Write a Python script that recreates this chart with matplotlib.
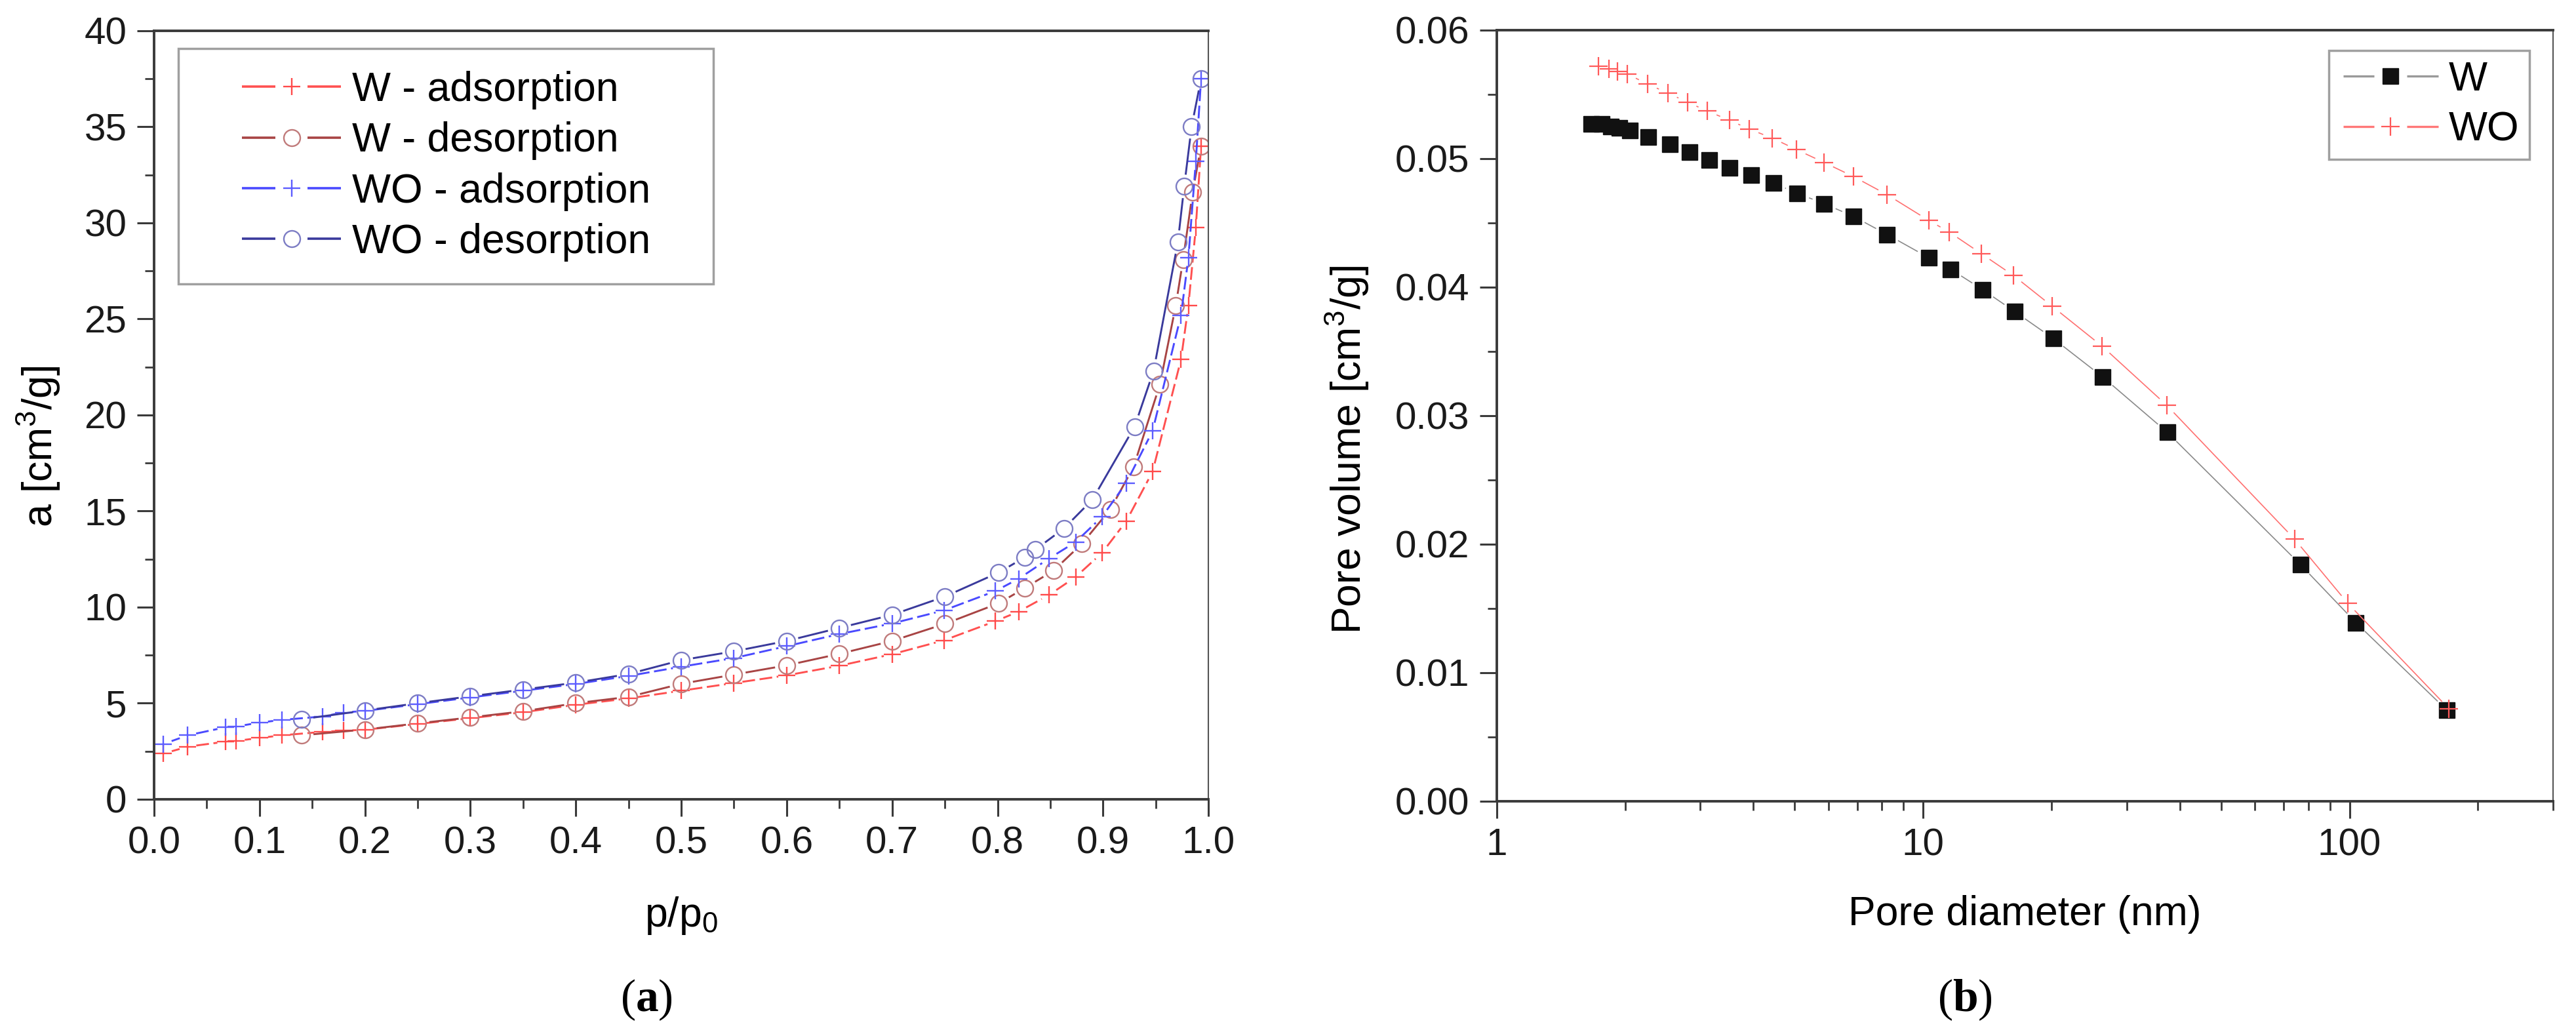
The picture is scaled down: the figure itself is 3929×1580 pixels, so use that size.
import numpy as np
import matplotlib
matplotlib.use("Agg")
import matplotlib.pyplot as plt
from matplotlib.lines import Line2D
from matplotlib.collections import LineCollection
from matplotlib.transforms import IdentityTransform
from matplotlib.legend_handler import HandlerBase
from matplotlib.ticker import MultipleLocator, FormatStrFormatter, LogLocator, FuncFormatter, NullFormatter

plt.rcParams['font.family'] = ['Liberation Sans', 'DejaVu Sans']
plt.rcParams['mathtext.fontset'] = 'custom'
plt.rcParams['mathtext.rm'] = 'Liberation Sans'
plt.rcParams['mathtext.bf'] = 'Liberation Serif:bold'
plt.rcParams['mathtext.default'] = 'regular'
plt.rcParams['lines.scale_dashes'] = False

# (a) isotherms
p_ads = [0.009, 0.032, 0.068, 0.078, 0.100, 0.121, 0.160, 0.180, 0.200, 0.250, 0.300,
         0.350, 0.400, 0.450, 0.500, 0.550, 0.600, 0.650, 0.700, 0.749, 0.798, 0.820,
         0.849, 0.874, 0.899, 0.922, 0.947, 0.974, 0.981, 0.988, 0.993]
w_ads = [2.38, 2.74, 3.00, 3.04, 3.19, 3.33, 3.51, 3.57, 3.62, 3.92, 4.22,
         4.53, 4.92, 5.25, 5.65, 6.05, 6.45, 6.95, 7.55, 8.27, 9.27, 9.77,
         10.64, 11.57, 12.82, 14.47, 17.05, 22.9, 25.7, 29.75, 34.0]
wo_ads = [2.88, 3.33, 3.75, 3.79, 3.99, 4.13, 4.31, 4.52, 4.60, 4.95, 5.30,
          5.65, 6.00, 6.42, 6.90, 7.35, 7.97, 8.60, 9.15, 9.83, 10.84, 11.48,
          12.54, 13.39, 14.70, 16.46, 19.17, 25.2, 28.2, 33.2, 37.5]

p_w_des = [0.993, 0.985, 0.976, 0.969, 0.954, 0.929, 0.907, 0.880, 0.853, 0.826, 0.801, 0.750,
           0.700, 0.650, 0.600, 0.550, 0.500, 0.450, 0.400, 0.350, 0.300, 0.250, 0.200, 0.140]
w_des = [34.0, 31.6, 28.1, 25.7, 21.6, 17.3, 15.1, 13.3, 11.9, 11.0, 10.2, 9.13,
         8.24, 7.57, 6.97, 6.49, 6.01, 5.33, 5.00, 4.58, 4.26, 3.95, 3.63, 3.33]
p_wo_des = [0.993, 0.984, 0.977, 0.971, 0.948, 0.930, 0.890, 0.863, 0.836, 0.826, 0.801, 0.750,
            0.700, 0.650, 0.600, 0.550, 0.500, 0.450, 0.400, 0.350, 0.300, 0.250, 0.200, 0.140]
wo_des = [37.5, 35.0, 31.9, 29.0, 22.3, 19.4, 15.6, 14.1, 13.0, 12.6, 11.8, 10.55,
          9.60, 8.92, 8.24, 7.70, 7.24, 6.52, 6.07, 5.71, 5.36, 5.00, 4.62, 4.17]

# (b) cumulative pore volume
d_w = [1.665, 1.76, 1.85, 1.94, 2.05, 2.27, 2.55, 2.83, 3.15, 3.51, 3.95, 4.46, 5.07,
       5.86, 6.87, 8.23, 10.3, 11.6, 13.8, 16.4, 20.2, 26.4, 37.4, 76.8, 103.5, 169]
v_w = [0.0527, 0.0527, 0.0525, 0.0524, 0.0522, 0.0517, 0.0511, 0.0505, 0.0499, 0.0493,
       0.0487, 0.0481, 0.0473, 0.0465, 0.0455, 0.0441, 0.0423, 0.0414, 0.0398, 0.0381,
       0.0360, 0.0330, 0.0287, 0.0184, 0.0139, 0.0071]
d_wo = [1.73, 1.83, 1.92, 2.02, 2.26, 2.52, 2.80, 3.12, 3.51, 3.91, 4.43, 5.05, 5.86,
        6.87, 8.23, 10.3, 11.5, 13.7, 16.3, 20.1, 26.3, 37.3, 74.3, 99.1, 171]
v_wo = [0.0572, 0.0570, 0.0568, 0.0566, 0.0558, 0.0551, 0.0544, 0.0537, 0.0530, 0.0523,
        0.0516, 0.0507, 0.0497, 0.0486, 0.0472, 0.0452, 0.0443, 0.0426, 0.0409, 0.0385,
        0.0354, 0.0308, 0.0204, 0.0154, 0.0072]

SPINE = '#3a3a3a'


class GapHandler(HandlerBase):
    # origin-like legend entry: line - marker - line, with a gap round the marker
    def __init__(self, lead=0.0, gap=0.4):
        super().__init__()
        self.lead = lead
        self.gap = gap

    def create_artists(self, legend, orig, xdescent, ydescent, width, height, fontsize, trans):
        y = height / 2 - ydescent
        x0 = -xdescent + self.lead * fontsize
        x1 = -xdescent + width
        xm = (x0 + x1) / 2
        g = self.gap * fontsize
        kw = dict(color=orig.get_color(), lw=orig.get_linewidth(), solid_capstyle='butt')
        a = Line2D([x0, xm - g], [y, y], **kw)
        b = Line2D([xm + g, x1], [y, y], **kw)
        m = Line2D([xm], [y], ls='none', marker=orig.get_marker(), ms=orig.get_markersize(),
                   mec=orig.get_markeredgecolor(), mfc=orig.get_markerfacecolor(),
                   mew=orig.get_markeredgewidth())
        for art in (a, b, m):
            art.set_transform(trans)
        return [a, b, m]


def gap_line(ax, x, y, gap, **kw):
    # line between points, broken around each symbol
    pts = ax.transData.transform(np.column_stack([x, y]))
    segs = []
    for p, q in zip(pts[:-1], pts[1:]):
        d = q - p
        n = np.hypot(d[0], d[1])
        if n > 2 * gap:
            u = d / n
            segs.append([p + u * gap, q - u * gap])
    lc = LineCollection(segs, transform=IdentityTransform(), capstyle='butt', **kw)
    ax.add_collection(lc, autolim=False)


def style(ax):
    for side in ['left', 'bottom', 'top']:
        ax.spines[side].set_linewidth(2.8)
        ax.spines[side].set_color(SPINE)
    ax.spines['right'].set_linewidth(1.5)
    ax.spines['right'].set_color('#555555')
    ax.tick_params(which='both', direction='out', color=SPINE, labelcolor='#1a1a1a',
                   top=False, right=False)
    ax.tick_params(which='major', length=19, width=2.2, labelsize=42)
    ax.tick_params(which='minor', length=10, width=2.0)
    ax.tick_params(axis='y', which='major', pad=11)
    ax.tick_params(axis='x', which='major', pad=10)


fig = plt.figure(figsize=(39.3, 15.8), dpi=100)
ax1 = fig.add_axes([0.0598, 0.2285, 0.4092, 0.7418])
ax2 = fig.add_axes([0.5809, 0.2266, 0.4099, 0.7443])

# ---- (a)
ax1.set_xlim(0, 1.0)
ax1.set_ylim(0, 40)
ax1.xaxis.set_major_locator(MultipleLocator(0.1))
ax1.xaxis.set_minor_locator(MultipleLocator(0.05))
ax1.xaxis.set_major_formatter(FormatStrFormatter('%.1f'))
ax1.yaxis.set_major_locator(MultipleLocator(5))
ax1.yaxis.set_minor_locator(MultipleLocator(2.5))
style(ax1)

series_a = [
    (p_ads, w_ads, '#ff5050', '+', '#ff4a4a', (0, (14, 5)), 13, 'W - adsorption'),
    (p_w_des, w_des, '#a84444', 'o', '#c07a7a', 'solid', 18, 'W - desorption'),
    (p_ads, wo_ads, '#4a4aff', '+', '#5c5cff', (0, (14, 5)), 13, 'WO - adsorption'),
    (p_wo_des, wo_des, '#3a3a9c', 'o', '#7c7cc4', 'solid', 18, 'WO - desorption'),
]
handles_a = []
for x, y, lc, mk, mc, ls, gap, lab in series_a:
    gap_line(ax1, x, y, gap, color=lc, linewidth=2.1, linestyle=ls)
    ms = 19 if mk == '+' else 18
    ax1.plot(x, y, ls='none', marker=mk, ms=ms, mew=1.7, mec=mc, mfc='none')
    handles_a.append(Line2D([], [], color=lc, lw=2.6, marker=mk, ms=ms, mew=1.7,
                            mec=mc, mfc='none', label=lab))

leg1 = ax1.legend(handles=handles_a, loc='upper left', bbox_to_anchor=(0.023, 0.0, 0.5075, 0.977),
                  mode='expand', borderaxespad=0, fontsize=45, handlelength=3.42,
                  handletextpad=0.27, borderpad=0.55, labelspacing=0.29, fancybox=False,
                  edgecolor='#a0a0a0', framealpha=1,
                  handler_map={Line2D: GapHandler(lead=1.0, gap=0.39)})
leg1.get_frame().set_linewidth(2.5)

ax1.set_xlabel(r'p/p$_0$', fontsize=45)
ax1.xaxis.set_label_coords(0.5, -0.125)
ax1.set_ylabel(r'a [cm$^3$/g]', fontsize=45)
ax1.yaxis.label.set_verticalalignment('center')
ax1.yaxis.set_label_coords(-0.109, 0.459)

# ---- (b)
ax2.set_xscale('log')
ax2.set_xlim(1, 300)
ax2.set_ylim(0, 0.06)
ax2.xaxis.set_major_locator(LogLocator(base=10, numticks=10))
ax2.xaxis.set_minor_locator(LogLocator(base=10, subs=np.arange(2, 10), numticks=20))
ax2.xaxis.set_major_formatter(FuncFormatter(lambda v, p: f'{v:g}'))
ax2.xaxis.set_minor_formatter(NullFormatter())
ax2.yaxis.set_major_locator(MultipleLocator(0.01))
ax2.yaxis.set_minor_locator(MultipleLocator(0.005))
ax2.yaxis.set_major_formatter(FormatStrFormatter('%.2f'))
style(ax2)

gap_line(ax2, d_w, v_w, 19, color='#8a8a8a', linewidth=1.2)
ax2.plot(d_w, v_w, ls='none', marker='s', ms=17, mew=1, mec='#111111', mfc='#111111')
gap_line(ax2, d_wo, v_wo, 15, color='#ff7070', linewidth=1.2)
ax2.plot(d_wo, v_wo, ls='none', marker='+', ms=20, mew=1.6, mec='#ff5a5a')

handles_b = [
    Line2D([], [], color='#9a9a9a', lw=2.4, marker='s', ms=17, mew=1, mec='#111111',
           mfc='#111111', label='W'),
    Line2D([], [], color='#ff7878', lw=2.4, marker='+', ms=20, mew=1.6, mec='#ff5a5a',
           mfc='none', label='WO'),
]
leg2 = ax2.legend(handles=handles_b, loc='upper right', bbox_to_anchor=(0.978, 0.974),
                  borderaxespad=0, fontsize=45, handlelength=2.42, handletextpad=0.26,
                  borderpad=0.25, labelspacing=0.28, fancybox=False, edgecolor='#a0a0a0',
                  framealpha=1, handler_map={Line2D: GapHandler(lead=0.1, gap=0.4)})
leg2.get_frame().set_linewidth(2.5)

ax2.set_xlabel('Pore diameter (nm)', fontsize=45)
ax2.xaxis.set_label_coords(0.5, -0.122)
ax2.set_ylabel(r'Pore volume [cm$^3$/g]', fontsize=45)
ax2.yaxis.label.set_verticalalignment('center')
ax2.yaxis.set_label_coords(-0.1415, 0.456)

fig.text(0.251, 0.0348, r'($\mathbf{a}$)', ha='center', va='center', fontsize=50,
         family='Liberation Serif')
fig.text(0.7625, 0.0348, r'($\mathbf{b}$)', ha='center', va='center', fontsize=50,
         family='Liberation Serif')

fig.savefig('out.png', dpi=100, facecolor='white')
